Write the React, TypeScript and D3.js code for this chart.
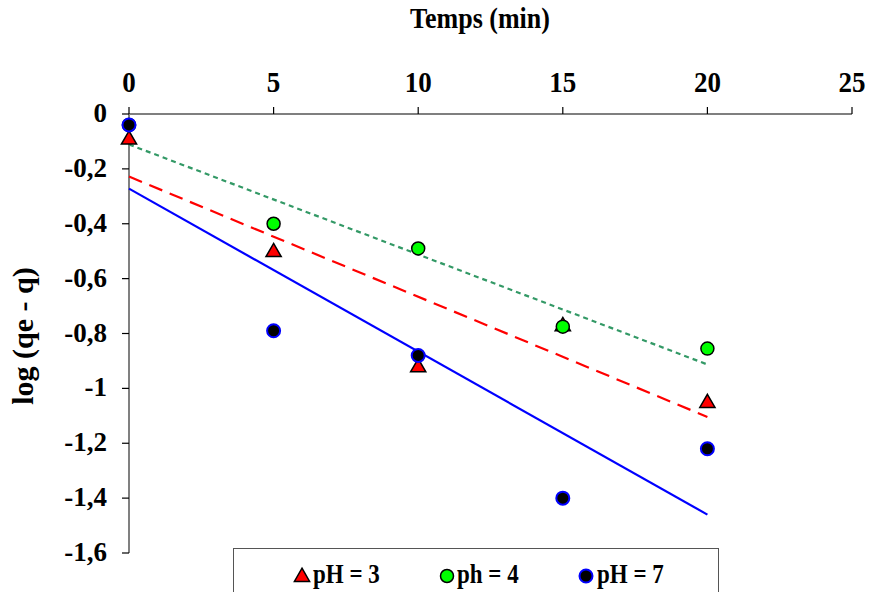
import React from "react";
import * as d3 from "d3";

// data
const times = [0, 5, 10, 15, 20];
const ph3 = [-0.09, -0.5, -0.92, -0.77, -1.05];
const ph4 = [-0.04, -0.4, -0.49, -0.775, -0.855];
const ph7 = [-0.04, -0.79, -0.88, -1.4, -1.22];
const xTicks = [0, 5, 10, 15, 20, 25];
const yTicks = [0, -0.2, -0.4, -0.6, -0.8, -1, -1.2, -1.4, -1.6];

const W = 871, H = 592;
const FONT = "Liberation Serif, Times New Roman, Times, serif";

function fit(xs: number[], ys: number[]) {
  const mx = d3.mean(xs)!, my = d3.mean(ys)!;
  let sxy = 0, sxx = 0;
  xs.forEach((x, i) => { sxy += (x - mx) * (ys[i] - my); sxx += (x - mx) * (x - mx); });
  const b = sxy / sxx;
  return { a: my - b * mx, b };
}

// bold serif text, optionally stretched (the original export is a little tall)
function Txt(p: { x: number; y: number; size: number; anchor?: string; sy?: number; rot?: number; children: any }) {
  const t = `translate(${p.x},${p.y})` + (p.rot ? ` rotate(${p.rot})` : "") + ` scale(1,${p.sy || 1})`;
  return (
    <text transform={t} textAnchor={p.anchor || "start"}
      style={{ fontFamily: FONT, fontWeight: 700, fontSize: p.size }}>{p.children}</text>
  );
}

export default function App() {
  const x = d3.scaleLinear().domain([0, 25]).range([129, 852]);
  const y = d3.scaleLinear().domain([0, -1.6]).range([114, 553]);

  const fmt = (v: number) => (v === 0 ? "0" : String(+v.toFixed(1)).replace(".", ","));

  const trend = (ys: number[]) => {
    const f = fit(times, ys);
    const line = d3.line<number>().x(t => x(t)).y(t => y(f.a + f.b * t));
    return line([0, 20]) || "";
  };

  const tri = d3.symbol().type(d3.symbolTriangle).size(100)() || "";

  return (
    <svg width={W} height={H} style={{ position: "absolute", left: 0, top: 0, background: "#fff" }}>
      <Txt x={480} y={28} size={26} anchor="middle" sy={1.12}>Temps (min)</Txt>
      <Txt x={33} y={336} size={30} anchor="middle" rot={-90}>log (qe - q)</Txt>

      {/* x axis on top */}
      <line x1={x(0)} x2={x(25)} y1={y(0)} y2={y(0)} stroke="#000" strokeWidth={1.2} />
      {xTicks.map(t => (
        <g key={t}>
          <line x1={x(t)} x2={x(t)} y1={y(0)} y2={y(0) - 7} stroke="#000" strokeWidth={1.2} />
          <Txt x={x(t)} y={92} size={27} anchor="middle" sy={1.1}>{t}</Txt>
        </g>
      ))}

      {/* y axis */}
      <line x1={x(0)} x2={x(0)} y1={y(0)} y2={y(-1.6)} stroke="#808080" strokeWidth={2} />
      {yTicks.map(t => (
        <g key={t}>
          <line x1={x(0) - 7} x2={x(0)} y1={y(t)} y2={y(t)} stroke="#000" strokeWidth={1.2} />
          <Txt x={107} y={y(t) + 8} size={27} anchor="end">{fmt(t)}</Txt>
        </g>
      ))}

      {/* trend lines */}
      <path d={trend(ph4)} fill="none" stroke="#339966" strokeWidth={2.2} strokeDasharray="5,4" />
      <path d={trend(ph3)} fill="none" stroke="#ff0000" strokeWidth={2.2} strokeDasharray="14,8" />
      <path d={trend(ph7)} fill="none" stroke="#0000ff" strokeWidth={2.2} />

      {/* points */}
      {ph3.map((v, i) => (
        <path key={"a" + i} d={tri} transform={`translate(${x(times[i])},${y(v) + 1})`}
          fill="#ff0000" stroke="#000" strokeWidth={1.5} />
      ))}
      {ph4.map((v, i) => (
        <circle key={"b" + i} cx={x(times[i])} cy={y(v)} r={6.5} fill="#00ff00" stroke="#000" strokeWidth={1.5} />
      ))}
      {ph7.map((v, i) => (
        <circle key={"c" + i} cx={x(times[i])} cy={y(v)} r={6.5} fill="#000" stroke="#0000ff" strokeWidth={2} />
      ))}

      {/* legend */}
      <rect x={233.5} y={548.5} width={485} height={60} fill="#fff" stroke="#555" strokeWidth={1} />
      <path d={tri} transform="translate(302,577)" fill="#ff0000" stroke="#000" strokeWidth={1.5} />
      <Txt x={313} y={583} size={23} sy={1.15}>pH = 3</Txt>
      <circle cx={447} cy={576} r={6.5} fill="#00ff00" stroke="#000" strokeWidth={1.5} />
      <Txt x={457} y={583} size={23} sy={1.15}>ph = 4</Txt>
      <circle cx={586} cy={576} r={6.5} fill="#000" stroke="#0000ff" strokeWidth={2} />
      <Txt x={597} y={583} size={23} sy={1.15}>pH = 7</Txt>
    </svg>
  );
}
